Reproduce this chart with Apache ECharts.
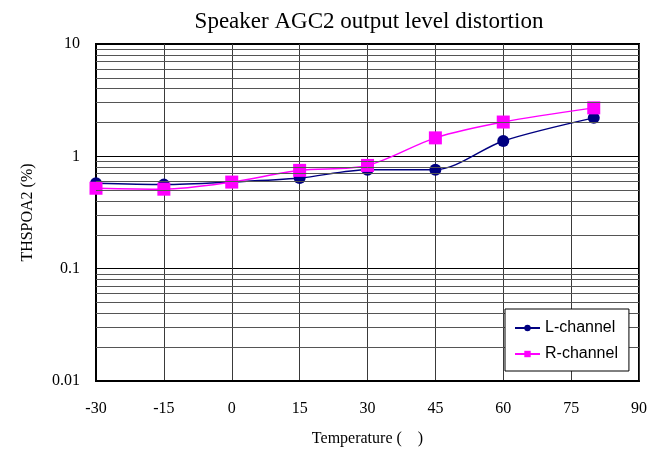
<!DOCTYPE html>
<html>
<head>
<meta charset="utf-8">
<script src="https://cdn.jsdelivr.net/npm/echarts@6/dist/echarts.min.js"></script>
<style>html,body{margin:0;padding:0;background:#fff}#c{width:662px;height:454px}</style>
</head>
<body>
<div id="c"></div>
<script>
var temperatures = [-30, -15, 0, 15, 30, 45, 60, 80];
var lChannel = [0.575, 0.56, 0.59, 0.64, 0.76, 0.76, 1.37, 2.2];
var rChannel = [0.52, 0.51, 0.59, 0.75, 0.83, 1.46, 2.02, 2.7];
var minorGridValues = [0.02,0.03,0.04,0.05,0.06,0.07,0.08,0.09,0.2,0.3,0.4,0.5,0.6,0.7,0.8,0.9,2,3,4,5,6,7,8,9];
var titleText = 'Speaker AGC2 output level distortion';
var serif = '"Liberation Serif", "Times New Roman", serif';
var sans = '"Liberation Sans", Arial, sans-serif';

function pairs(xs, ys){ return xs.map(function(x,i){ return [x, ys[i]]; }); }

var chart = echarts.init(document.getElementById('c'));
chart.setOption({
  animation: false,
  backgroundColor: '#fff',
  title: {
    text: titleText, left: 364, top: 5, textAlign: 'center',
    textStyle: { fontFamily: serif, fontSize: 23, fontWeight: 'normal', color: '#000' }
  },
  grid: { left: 96, right: 23, top: 44, bottom: 73, show: true, borderColor: '#000', borderWidth: 2, backgroundColor: 'transparent' },
  legend: {
    left: 505, top: 309, orient: 'vertical', backgroundColor: '#fff', borderColor: '#000', borderWidth: 1,
    borderRadius: 0, padding: [10, 11, 8, 9], itemGap: 8, itemWidth: 25, itemHeight: 8, z: 20,
    textStyle: { fontFamily: sans, fontSize: 16, lineHeight: 18, color: '#000' },
    data: [{ name: 'L-channel' }, { name: 'R-channel' }]
  },
  xAxis: {
    type: 'value', min: -30, max: 90, interval: 15,
    name: 'Temperature (    )', nameLocation: 'middle', nameGap: 50,
    nameTextStyle: { fontFamily: serif, fontSize: 16, color: '#000' },
    axisLine: { onZero: false, lineStyle: { color: '#000', width: 2 } },
    axisTick: { show: false },
    axisLabel: { fontFamily: serif, fontSize: 16, color: '#000', margin: 20 },
    splitLine: { show: true, lineStyle: { color: '#3a3a3a', width: 1 } }
  },
  yAxis: {
    type: 'log', logBase: 10, min: 0.01, max: 10,
    name: 'THSPOA2 (%)', nameLocation: 'middle', nameGap: 60, nameRotate: 90,
    nameTextStyle: { fontFamily: serif, fontSize: 16, color: '#000' },
    axisLine: { onZero: false, lineStyle: { color: '#000', width: 2 } },
    axisTick: { show: false },
    axisLabel: { fontFamily: serif, fontSize: 16, color: '#000', margin: 16,
      formatter: function(v){ return String(+v.toPrecision(3)); } },
    splitLine: { show: true, lineStyle: { color: '#000', width: 1 } }
  },
  series: [
    {
      name: 'grid-minor', type: 'line', data: [], silent: true, z: 1,
      markLine: {
        silent: true, symbol: 'none', label: { show: false }, animation: false,
        lineStyle: { color: '#555', width: 1, type: 'solid' },
        data: minorGridValues.map(function(v){ return { yAxis: v }; })
      }
    },
    {
      name: 'L-channel', type: 'line', data: pairs(temperatures, lChannel), z: 3,
      smooth: 0.3, symbol: 'circle', symbolSize: 12,
      itemStyle: { color: '#000080' }, lineStyle: { color: '#000080', width: 1.5 }
    },
    {
      name: 'R-channel', type: 'line', data: pairs(temperatures, rChannel), z: 4,
      smooth: 0.3, symbol: 'rect', symbolSize: 13,
      itemStyle: { color: '#ff00ff' }, lineStyle: { color: '#ff00ff', width: 1.5 }
    }
  ]
});
</script>
</body>
</html>
